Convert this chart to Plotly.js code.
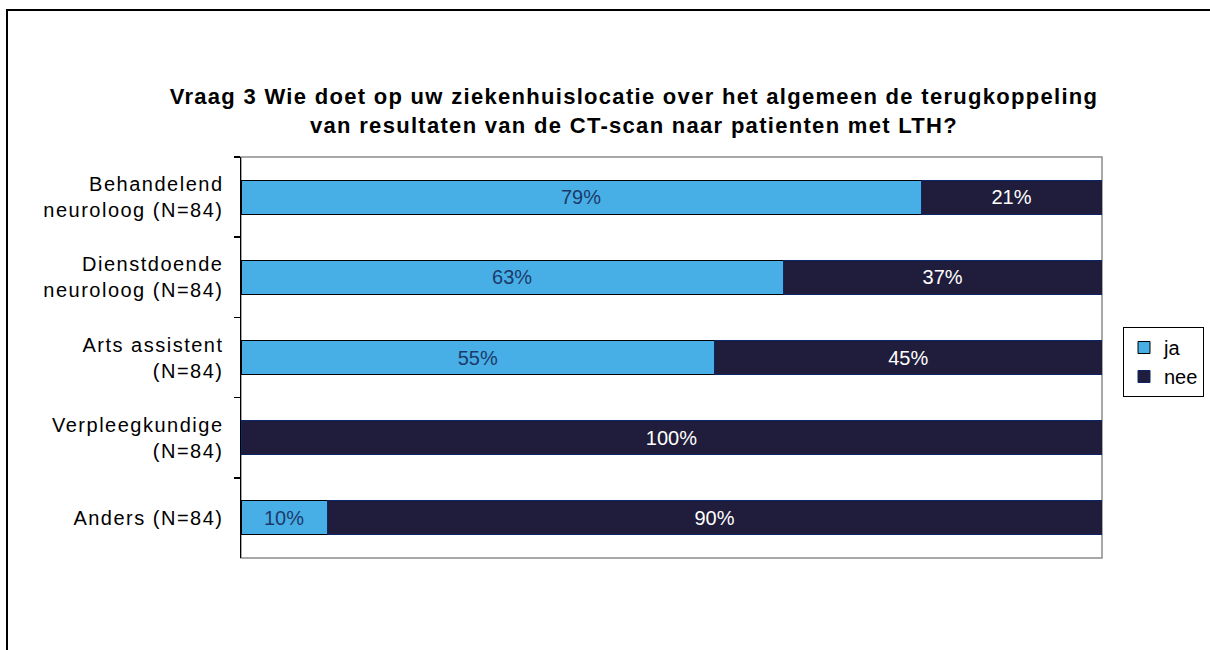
<!DOCTYPE html>
<html>
<head>
<meta charset="utf-8">
<script src="https://cdn.plot.ly/plotly-3.0.1.min.js"></script>
<style>
html,body{margin:0;padding:0;background:#fff;}
#chart{width:1210px;height:650px;}
#chart .gtitle{letter-spacing:1.3px;}
#chart .ytick text{letter-spacing:1.5px;}
</style>
</head>
<body>
<div id="chart"></div>
<script>
const categories = [
  "Behandelend<br>neuroloog (N=84)",
  "Dienstdoende<br>neuroloog (N=84)",
  "Arts assistent<br>(N=84)",
  "Verpleegkundige<br>(N=84)",
  "Anders (N=84)"
];
const jaValues = [79, 63, 55, 0, 10];
const neeValues = [21, 37, 45, 100, 90];
const seriesNames = ["ja", "nee"];
const titleText = "Vraag 3 Wie doet op uw ziekenhuislocatie over het algemeen de terugkoppeling<br>van resultaten van de CT-scan naar patienten met LTH?";

const pct = v => v > 0 ? v + "%" : "";
const FONT = "Liberation Sans, Arial, sans-serif";

const traces = [
  {
    type: "bar", orientation: "h", name: seriesNames[0],
    y: categories, x: jaValues, text: jaValues.map(pct),
    textposition: "inside", insidetextanchor: "middle", constraintext: "none",
    textfont: {family: FONT, size: 20, color: "#1D3A6B"},
    marker: {color: "#47AFE6", line: {color: "#000000", width: 1}},
    hoverinfo: "skip", cliponaxis: false
  },
  {
    type: "bar", orientation: "h", name: seriesNames[1],
    y: categories, x: neeValues, text: neeValues.map(pct),
    textposition: "inside", insidetextanchor: "middle", constraintext: "none",
    textfont: {family: FONT, size: 20, color: "#FFFFFF"},
    marker: {color: "#1F1D3B", line: {color: "#0B2566", width: 1}},
    hoverinfo: "skip", cliponaxis: false
  }
];

const L = 241, R = 1102, T = 157, B = 558, W = 1210, H = 650;
const px = x => (x - L) / (R - L);
const py = y => (B - y) / (B - T);

const layout = {
  width: W, height: H,
  margin: {l: L, r: W - R, t: T, b: H - B, pad: 0},
  paper_bgcolor: "#fff", plot_bgcolor: "#fff",
  font: {family: FONT, size: 20, color: "#000"},
  barmode: "stack",
  bargap: 0.575,
  title: {
    text: titleText,
    font: {family: FONT, size: 22, color: "#000", weight: "bold"},
    x: 634 / W, xref: "container", xanchor: "center",
    y: 1 - 104 / H, yref: "container", yanchor: "top"
  },
  xaxis: {
    range: [0, 100], showticklabels: false, ticks: "", showgrid: false,
    zeroline: false, showline: false, fixedrange: true
  },
  yaxis: {
    type: "category", autorange: "reversed",
    showline: true, linecolor: "#000", linewidth: 1.5,
    ticks: "outside", tickson: "boundaries", ticklen: 6, tickcolor: "#000", tickwidth: 1.5,
    showgrid: false, zeroline: false,
    tickfont: {family: FONT, size: 20, color: "#000"},
    ticklabelstandoff: 12
  },
  legend: {
    x: 1123 / W, xref: "container", xanchor: "left",
    y: 1 - 327 / H, yref: "container", yanchor: "top",
    bordercolor: "#000", borderwidth: 1, bgcolor: "#fff",
    font: {family: FONT, size: 20, color: "#000"},
    itemwidth: 30, tracegroupgap: 0, traceorder: "normal"
  },
  showlegend: true,
  shapes: [
    {type: "rect", xref: "paper", yref: "paper", x0: 0, x1: 1, y0: 0, y1: 1,
     line: {color: "#8c8c8c", width: 1.5}, layer: "below"},
    {type: "rect", xref: "paper", yref: "paper",
     x0: px(7), x1: px(1220), y0: py(10), y1: py(660),
     line: {color: "#000", width: 2}, fillcolor: "rgba(0,0,0,0)", layer: "below"}
  ]
};

Plotly.newPlot("chart", traces, layout, {displayModeBar: false, staticPlot: true});
</script>
</body>
</html>
